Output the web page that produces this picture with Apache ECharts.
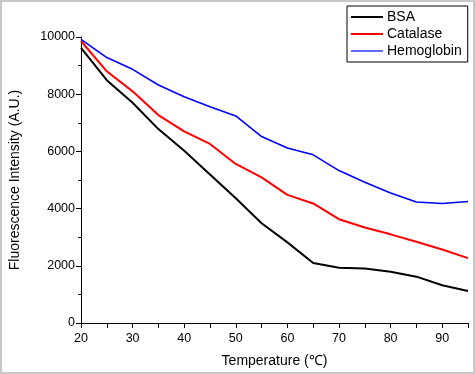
<!DOCTYPE html>
<html>
<head>
<meta charset="utf-8">
<script src="https://cdn.jsdelivr.net/npm/echarts@6/dist/echarts.min.js"></script>
<style>
html,body{margin:0;padding:0;background:#fff;}
#chart{width:475px;height:374px;}
</style>
</head>
<body>
<div id="chart"></div>
<script>
const temperatures = [20, 25, 30, 35, 40, 45, 50, 55, 60, 65, 70, 75, 80, 85, 90, 95];
const bsa = [9620, 8490, 7700, 6780, 6020, 5190, 4360, 3490, 2820, 2100, 1930, 1905, 1790, 1620, 1320, 1120];
const catalase = [9860, 8800, 8100, 7270, 6700, 6260, 5560, 5094, 4480, 4180, 3630, 3340, 3100, 2840, 2570, 2270];
const hemoglobin = [9920, 9280, 8870, 8320, 7910, 7560, 7240, 6520, 6120, 5880, 5330, 4920, 4545, 4230, 4180, 4250];

const FONT = 'Liberation Sans, Arial, sans-serif';
const pairs = arr => temperatures.map((t, i) => [t, arr[i]]);

const chart = echarts.init(document.getElementById('chart'), null, {renderer: 'canvas'});
chart.setOption({
  animation: false,
  backgroundColor: '#fff',
  graphic: [{
    type: 'rect',
    shape: {x: 1, y: 1, width: 473, height: 372},
    style: {fill: 'none', stroke: '#c8c8c8', lineWidth: 2},
    silent: true
  }],
  grid: {left: 78, right: 7, top: 37, bottom: 51, containLabel: false},
  legend: {
    orient: 'vertical',
    left: 347,
    top: 6,
    width: 122,
    padding: [4, 6, 4, 4],
    itemWidth: 32,
    itemHeight: 14,
    itemGap: 3,
    borderColor: '#000',
    borderWidth: 1,
    textStyle: {fontFamily: FONT, fontSize: 14, color: '#000', padding: [0, 0, 0, -1]},
    data: [
      {name: 'BSA', icon: 'path://M0,0L32,0L32,2L0,2Z'},
      {name: 'Catalase', icon: 'path://M0,0L32,0L32,2L0,2Z'},
      {name: 'Hemoglobin', icon: 'path://M0,0L32,0L32,1.2L0,1.2Z'}
    ]
  },
  xAxis: {
    type: 'value',
    min: 20, max: 95, interval: 10,
    name: 'Temperature (℃)',
    nameLocation: 'middle',
    nameGap: 31,
    nameTextStyle: {fontFamily: FONT, fontSize: 14, color: '#000'},
    axisLine: {lineStyle: {color: '#000', width: 1}},
    axisTick: {show: true, length: 5, lineStyle: {color: '#000'}},
    minorTick: {show: true, splitNumber: 2, length: 5, lineStyle: {color: '#000'}},
    axisLabel: {fontFamily: FONT, fontSize: 12.5, color: '#000', margin: 9,
      formatter: v => (v === 95 ? '' : String(v))},
    splitLine: {show: false}
  },
  yAxis: {
    type: 'value',
    min: 0, max: 10000, interval: 2000,
    name: 'Fluorescence Intensity (A.U.)',
    nameLocation: 'middle',
    nameGap: 59,
    nameTextStyle: {fontFamily: FONT, fontSize: 14, color: '#000'},
    axisLine: {show: true, lineStyle: {color: '#000', width: 1}},
    axisTick: {show: true, length: 5, lineStyle: {color: '#000'}},
    minorTick: {show: true, splitNumber: 2, length: 3, lineStyle: {color: '#000'}},
    axisLabel: {fontFamily: FONT, fontSize: 12.5, color: '#000', margin: 6,
      formatter: v => String(v)},
    splitLine: {show: false}
  },
  series: [
    {name: 'BSA', type: 'line', data: pairs(bsa), symbol: 'none',
      lineStyle: {color: '#000000', width: 2}, itemStyle: {color: '#000000'}},
    {name: 'Catalase', type: 'line', data: pairs(catalase), symbol: 'none',
      lineStyle: {color: '#ff0000', width: 2}, itemStyle: {color: '#ff0000'}},
    {name: 'Hemoglobin', type: 'line', data: pairs(hemoglobin), symbol: 'none',
      lineStyle: {color: '#0000ff', width: 1.6}, itemStyle: {color: '#0000ff'}}
  ]
});
</script>
</body>
</html>
